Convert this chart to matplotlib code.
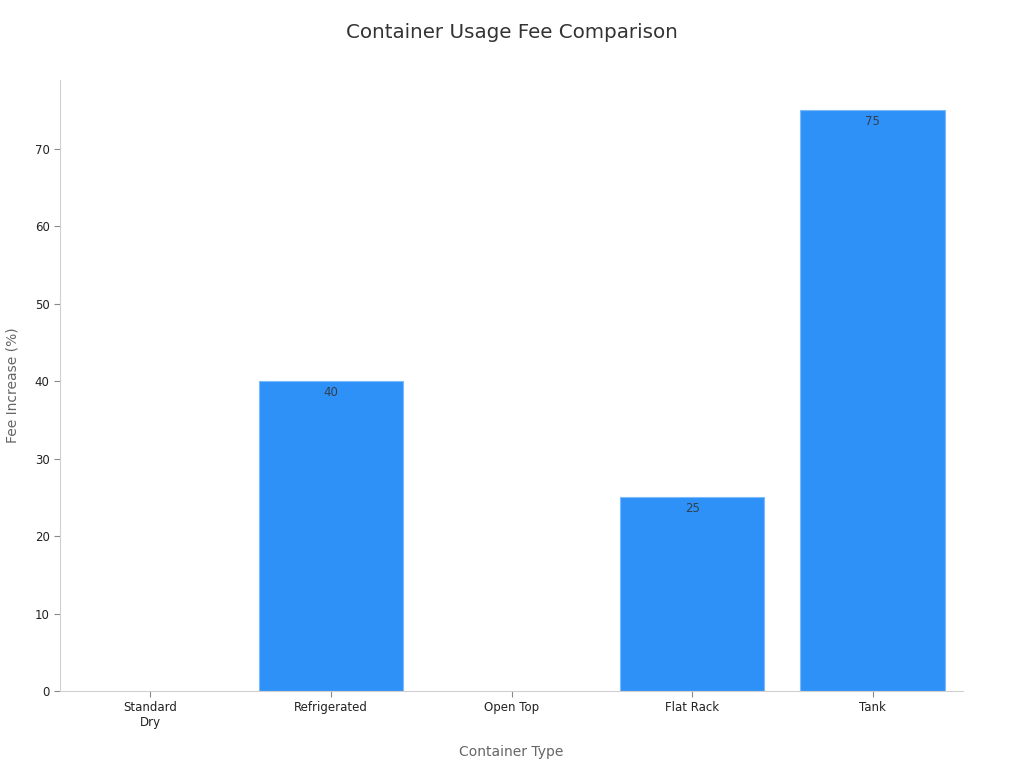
import matplotlib
matplotlib.use('Agg')
import matplotlib.pyplot as plt

categories = ['Standard\nDry', 'Refrigerated', 'Open Top', 'Flat Rack', 'Tank']
fee_increase = [0, 40, 0, 25, 75]

fig = plt.figure(figsize=(10.24, 7.68), dpi=100)
ax = fig.add_axes([60/1024, 77/768, 903/1024, 611/768])

bars = ax.bar(range(len(categories)), fee_increase, width=0.8,
              color='#2e91f8', edgecolor='#7dbaf9', linewidth=0.8)
for b, v in zip(bars, fee_increase):
    if v > 0:
        ax.text(b.get_x() + b.get_width()/2, v - 0.6, str(v),
                ha='center', va='top', fontsize=8.5, color='#333f50')
    else:
        b.set_linewidth(0)

ax.set_xlim(-0.5, 4.5)
ax.set_ylim(0, 78.9)
ax.set_xticks(range(len(categories)))
ax.set_xticklabels(categories, fontsize=8.5, color='#222222')
ax.set_yticks(range(0, 80, 10))
ax.tick_params(axis='y', labelsize=8.5, colors='#222222')
for s in ['top', 'right']:
    ax.spines[s].set_visible(False)
for s in ['left', 'bottom']:
    ax.spines[s].set_color('#d0d0d0')
ax.tick_params(color='#888888', length=4)

ax.set_xlabel('Container Type', fontsize=10, color='#666666', labelpad=11)
ax.set_ylabel('Fee Increase (%)', fontsize=10, color='#666666', labelpad=11)
fig.text(0.5, 1 - 33/768, 'Container Usage Fee Comparison', ha='center', va='center',
         fontsize=14.3, color='#333333')

fig.savefig('out.png', dpi=100)
